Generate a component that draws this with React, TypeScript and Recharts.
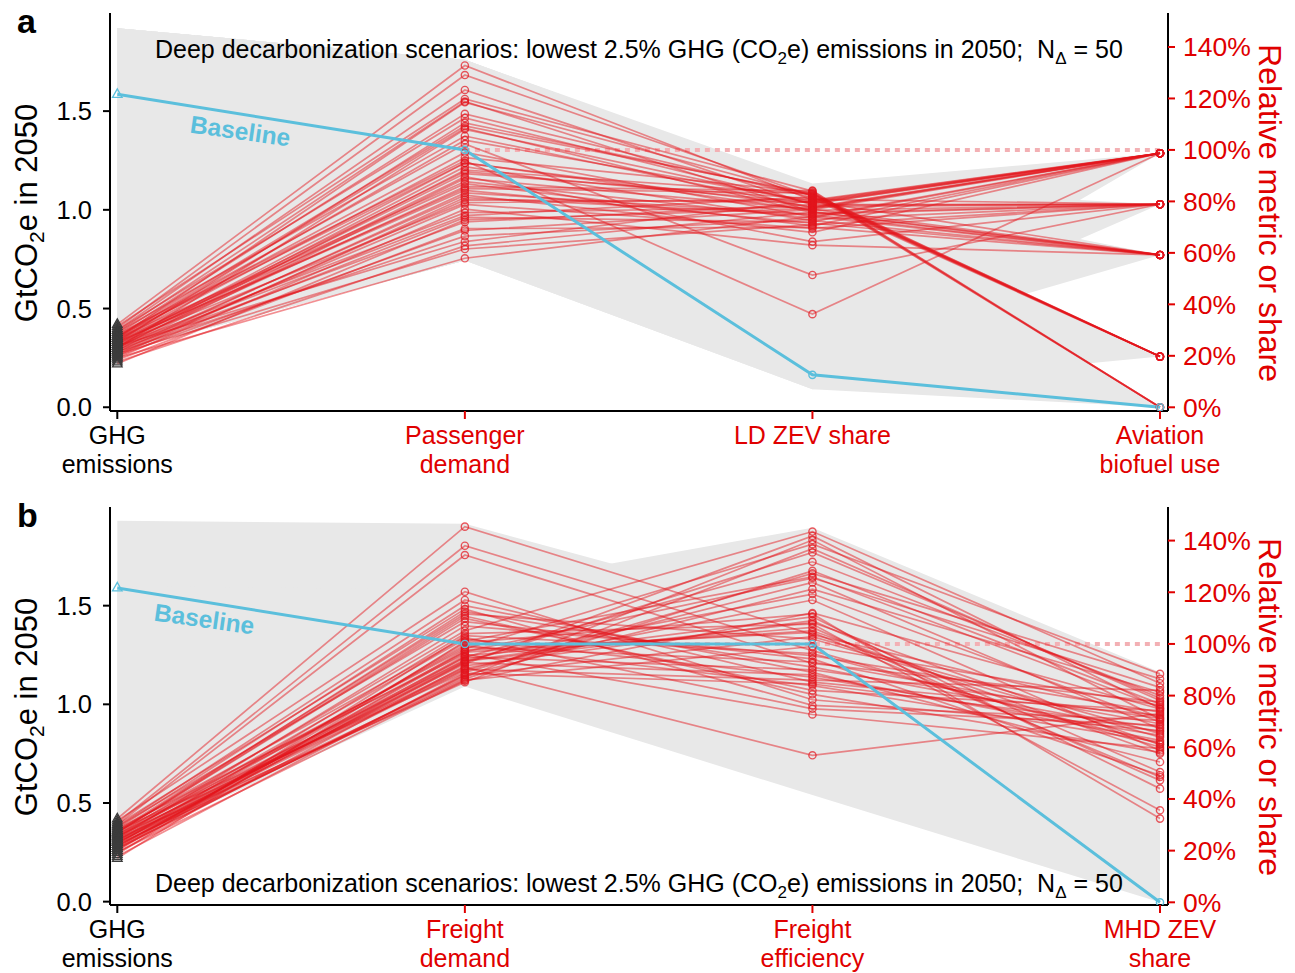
import React from "react";
import { ComposedChart, Line, Area, XAxis, YAxis } from "recharts";

const RED = "#e3141c";
const TEXT_RED = "#e00000";
const BLUE = "#5bbfdc";
const GRAY = "#e8e8e8";
const FONT = "'Liberation Sans', Arial, Helvetica, sans-serif";

// GHG emissions in 2050 (GtCO2e) of the 50 deep decarbonization runs (same runs in both panels)
const ghgGt = [
  0.42, 0.4, 0.39, 0.41, 0.38, 0.37, 0.39, 0.36, 0.35, 0.38,
  0.34, 0.36, 0.33, 0.35, 0.37, 0.32, 0.34, 0.31, 0.33, 0.36,
  0.3, 0.32, 0.35, 0.29, 0.31, 0.34, 0.28, 0.3, 0.33, 0.27,
  0.29, 0.32, 0.26, 0.28, 0.31, 0.25, 0.3, 0.27, 0.29, 0.24,
  0.33, 0.26, 0.28, 0.31, 0.23, 0.35, 0.27, 0.3, 0.25, 0.22,
];

// panel a: relative metric or share (%)
const passengerDemand = [
  132.8, 129.1, 123.3, 119.8, 118.8, 114.0, 112.4, 109.3, 108.5, 105.4,
  103.8, 102.3, 110.5, 99.0, 95.8, 94.9, 97.0, 93.5, 91.6, 95.0,
  89.6, 90.8, 87.7, 88.9, 85.7, 86.9, 83.3, 92.2, 84.3, 80.6,
  82.4, 79.5, 81.5, 78.8, 75.6, 77.0, 74.5, 73.8, 72.0, 69.4,
  85.0, 68.7, 66.5, 64.4, 62.7, 118.5, 61.5, 108.0, 57.9, 72.8,
];
const ldZevShare = [
  80.5, 82.0, 78.5, 84.0, 76.0, 81.5, 79.0, 83.0, 75.5, 77.5,
  80.0, 51.4, 82.5, 74.0, 36.2, 78.0, 83.5, 72.5, 79.5, 76.5,
  64.4, 81.0, 73.5, 77.0, 84.2, 70.5, 75.0, 82.8, 71.5, 79.8,
  68.0, 80.8, 74.8, 69.5, 77.8, 63.0, 81.8, 72.0, 78.8, 70.0,
  83.2, 76.8, 73.0, 80.2, 75.8, 82.2, 71.0, 79.2, 74.2, 77.2,
];
const aviationBiofuel = [
  98.7, 19.7, 78.9, 0, 59.2, 19.7, 98.7, 19.7, 78.9, 98.7,
  59.2, 78.9, 19.7, 98.7, 98.7, 78.9, 0, 59.2, 98.7, 78.9,
  78.9, 19.7, 98.7, 59.2, 0, 98.7, 78.9, 19.7, 59.2, 98.7,
  98.7, 78.9, 59.2, 78.9, 98.7, 59.2, 19.7, 98.7, 78.9, 59.2,
  0, 98.7, 78.9, 98.7, 59.2, 19.7, 78.9, 98.7, 59.2, 98.7,
];

// panel b
const freightDemand = [
  145.4, 138.0, 134.4, 120.2, 117.0, 114.8, 113.5, 111.6, 109.9, 108.6,
  105.1, 102.5, 101.9, 98.1, 96.1, 94.8, 93.6, 92.3, 91.0, 89.0,
  87.1, 85.2, 112.5, 104.0, 99.5, 97.0, 95.5, 93.0, 90.5, 88.0,
  86.5, 107.0, 100.5, 96.8, 94.0, 91.5, 89.8, 87.8, 86.0, 103.2,
  98.8, 95.0, 92.8, 90.2, 88.6, 110.8, 97.6, 93.3, 85.8, 101.0,
];
const freightEfficiency = [
  103.6, 97.4, 92.5, 78.4, 85.2, 89.0, 76.2, 101.9, 82.0, 94.2,
  143.5, 74.9, 87.1, 138.6, 72.7, 131.8, 110.5, 141.8, 56.9, 127.3,
  140.2, 136.9, 91.0, 107.7, 83.9, 125.5, 106.4, 135.4, 117.0, 121.2,
  128.3, 95.5, 111.6, 105.1, 119.3, 109.0, 123.8, 102.8, 99.0, 96.3,
  93.0, 90.0, 88.0, 86.0, 84.5, 80.5, 104.5, 108.3, 112.0, 126.0,
];
const mhdZevShare = [
  71.7, 60.1, 77.5, 66.5, 72.4, 54.3, 70.4, 63.9, 74.2, 49.2,
  84.8, 68.5, 64.6, 88.4, 59.5, 80.0, 44.0, 75.0, 73.0, 86.5,
  70.9, 78.1, 66.0, 35.6, 62.0, 83.2, 47.2, 79.0, 58.8, 81.3,
  76.8, 73.6, 32.4, 57.5, 69.8, 50.4, 67.2, 65.3, 76.2, 61.4,
  69.1, 71.2, 62.7, 82.0, 67.8, 58.0, 48.5, 61.0, 74.8, 75.5,
];

// baseline: GHG (Gt) then the three metrics (%)
const baselineA = [1.585, 100, 12.6, 0];
const baselineB = [1.59, 100, 100, 0];

// envelopes of all other scenarios: [low, high] per axis (GHG in Gt, rest in %)
const cloudA = [
  [[0.28, 1.92], [57, 135], [20, 87], [98.7, 98.7]],
  [[0.28, 1.92], [57, 135], [20, 86], [78.9, 78.9]],
  [[0.28, 1.92], [57, 135], [20, 86], [59.2, 59.2]],
  [[0.28, 1.92], [57, 135], [7, 83], [19.7, 19.7]],
  [[0.28, 1.92], [57, 135], [7, 83], [0, 0]],
];
const cloudB = [
  [[0.32, 1.93], [110, 146.5], [70, 110], [0, 85]],
  [[0.28, 1.6], [83.5, 121], [41.5, 145], [0, 89]],
];

const labelsA = [["GHG", "emissions"], ["Passenger", "demand"], ["LD ZEV share"], ["Aviation", "biofuel use"]];
const labelsB = [["GHG", "emissions"], ["Freight", "demand"], ["Freight", "efficiency"], ["MHD ZEV", "share"]];
const gtTicks = [0, 0.5, 1, 1.5];
const pctTicks = [0, 20, 40, 60, 80, 100, 120, 140];

function buildRows(metrics, base, cloud, gtDom, pctDom) {
  const conv = (g) => pctDom[0] + ((g - gtDom[0]) * (pctDom[1] - pctDom[0])) / (gtDom[1] - gtDom[0]);
  return [1, 2, 3, 4].map((x, c) => {
    const row: any = { x };
    ghgGt.forEach((g, i) => {
      row["s" + i] = c === 0 ? conv(g) : metrics[c - 1][i];
    });
    row.base = c === 0 ? conv(base[0]) : base[c];
    row.ref = c === 0 ? null : 100;
    cloud.forEach((b, k) => {
      row["g" + k] = c === 0 ? [conv(b[0][0]), conv(b[0][1])] : b[c];
    });
    return row;
  });
}

const tri = (cx, cy) => `M${cx},${cy - 5.5}L${cx + 4.8},${cy + 3}L${cx - 4.8},${cy + 3}Z`;

function makeDot(color, opacity, triColor) {
  return (props) => {
    const { cx, cy, index, dataKey } = props;
    const key = `${dataKey}-${index}`;
    if (cx == null || cy == null) return <g key={key} />;
    if (index === 0)
      return <path key={key} d={tri(cx, cy)} fill="none" stroke={triColor} strokeWidth={1.3} />;
    return (
      <circle key={key} cx={cx} cy={cy} r={3.6} fill="none" stroke={color} strokeOpacity={opacity} strokeWidth={1.4} />
    );
  };
}

const redDot = makeDot(RED, 0.7, "#3c3c3c");
const blueDot = makeDot(BLUE, 1, BLUE);

function CatTick({ x, y, payload, labels }) {
  const idx = Math.round(payload.value) - 1;
  const lines = labels[idx] || [];
  const color = idx === 0 ? "#000" : TEXT_RED;
  return (
    <g>
      <line x1={x} x2={x} y1={y} y2={y + 8} stroke={color} strokeWidth={2} />
      {lines.map((t, i) => (
        <text key={i} x={x} y={y + 33 + i * 28.5} textAnchor="middle" fill={color} fontSize={25} fontFamily={FONT}>
          {t}
        </text>
      ))}
    </g>
  );
}

function Panel({ rows, labels, nCloud, height, top, xHeight, gtDom, pctDom }) {
  return (
    <div style={{ position: "absolute", left: 0, top }}>
      <ComposedChart width={1295} height={height} data={rows} margin={{ top: height - xHeight - 398, right: 0, bottom: 0, left: 0 }}>
        <XAxis
          dataKey="x"
          type="number"
          domain={[0.979, 4.023]}
          allowDataOverflow
          ticks={[1, 2, 3, 4]}
          interval={0}
          height={xHeight}
          tickSize={0}
          tickMargin={0}
          tickLine={false}
          axisLine={{ stroke: "#000", strokeWidth: 2 }}
          tick={(p) => <CatTick {...p} labels={labels} />}
        />
        <YAxis
          yAxisId="gt"
          orientation="left"
          width={110}
          domain={gtDom}
          allowDataOverflow
          ticks={gtTicks}
          interval={0}
          tickFormatter={(v) => v.toFixed(1)}
          tickSize={7}
          tickMargin={11}
          axisLine={{ stroke: "#000", strokeWidth: 2 }}
          tickLine={{ stroke: "#000", strokeWidth: 2 }}
          tick={{ fill: "#000", fontSize: 25.5, fontFamily: FONT }}
        />
        <YAxis
          yAxisId="pct"
          orientation="right"
          width={127}
          domain={pctDom}
          allowDataOverflow
          ticks={pctTicks}
          interval={0}
          tickFormatter={(v) => `${v}%`}
          tickSize={7}
          tickMargin={8}
          axisLine={{ stroke: "#000", strokeWidth: 2 }}
          tickLine={{ stroke: TEXT_RED, strokeWidth: 2 }}
          tick={{ fill: TEXT_RED, fontSize: 26.5, fontFamily: FONT }}
        />
        {Array.from({ length: nCloud }, (_, k) => (
          <Area
            key={"g" + k}
            yAxisId="pct"
            type="linear"
            dataKey={"g" + k}
            stroke="none"
            fill={GRAY}
            fillOpacity={1}
            isAnimationActive={false}
            activeDot={false}
          />
        ))}
        <Line
          yAxisId="pct"
          type="linear"
          dataKey="ref"
          stroke="#f3b0b4"
          strokeWidth={4}
          strokeDasharray="5 5"
          dot={false}
          activeDot={false}
          isAnimationActive={false}
        />
        {ghgGt.map((_, i) => (
          <Line
            key={"s" + i}
            yAxisId="pct"
            type="linear"
            dataKey={"s" + i}
            stroke={RED}
            strokeOpacity={0.48}
            strokeWidth={1.7}
            dot={redDot}
            activeDot={false}
            isAnimationActive={false}
          />
        ))}
        <Line
          yAxisId="pct"
          type="linear"
          dataKey="base"
          stroke={BLUE}
          strokeWidth={3}
          dot={blueDot}
          activeDot={false}
          isAnimationActive={false}
        />
      </ComposedChart>
    </div>
  );
}

function Annotations({ yOff, titleY, baseX, baseY, letter }) {
  const mid = yOff + 213;
  return (
    <g fontFamily={FONT}>
      <text x={17} y={yOff + 33} fontSize={34} fontWeight="bold">
        {letter}
      </text>
      <text x={155} y={titleY} fontSize={25} style={{ whiteSpace: "pre" }}>
        Deep decarbonization scenarios: lowest 2.5% GHG (CO
        <tspan dy={6} fontSize={17}>2</tspan>
        <tspan dy={-6}>e) emissions in 2050;  N</tspan>
        <tspan dy={6} fontSize={17}>Δ</tspan>
        <tspan dy={-6}> = 50</tspan>
      </text>
      <text
        x={baseX}
        y={baseY}
        textAnchor="middle"
        dominantBaseline="middle"
        fontSize={24.5}
        fontWeight="bold"
        fill={BLUE}
        transform={`rotate(8 ${baseX} ${baseY})`}
      >
        Baseline
      </text>
      <text x={37} y={mid} textAnchor="middle" fontSize={31} transform={`rotate(-90 37 ${mid})`}>
        GtCO<tspan dy={7} fontSize={21}>2</tspan>
        <tspan dy={-7}>e in 2050</tspan>
      </text>
      <text x={1259} y={mid} textAnchor="middle" fontSize={32} fill={TEXT_RED} transform={`rotate(90 1259 ${mid})`}>
        Relative metric or share
      </text>
    </g>
  );
}

const gtDomA = [-0.019, 1.997];
const pctDomA = [-1.44, 153.2];
const gtDomB = [-0.017, 2.0];
const pctDomB = [-1.04, 153.0];

const rowsA = buildRows([passengerDemand, ldZevShare, aviationBiofuel], baselineA, cloudA, gtDomA, pctDomA);
const rowsB = buildRows([freightDemand, freightEfficiency, mhdZevShare], baselineB, cloudB, gtDomB, pctDomB);

export default function App() {
  return (
    <div style={{ position: "absolute", left: 0, top: 0, width: 1295, height: 973, background: "#fff", overflow: "hidden" }}>
      <Panel rows={rowsA} labels={labelsA} nCloud={cloudA.length} height={490} top={0} xHeight={79} gtDom={gtDomA} pctDom={pctDomA} />
      <Panel rows={rowsB} labels={labelsB} nCloud={cloudB.length} height={483} top={490} xHeight={68} gtDom={gtDomB} pctDom={pctDomB} />
      <svg width={1295} height={973} style={{ position: "absolute", left: 0, top: 0, pointerEvents: "none" }}>
        <Annotations yOff={0} titleY={58} baseX={240} baseY={133} letter="a" />
        <Annotations yOff={494} titleY={892} baseX={204} baseY={621} letter="b" />
      </svg>
    </div>
  );
}
